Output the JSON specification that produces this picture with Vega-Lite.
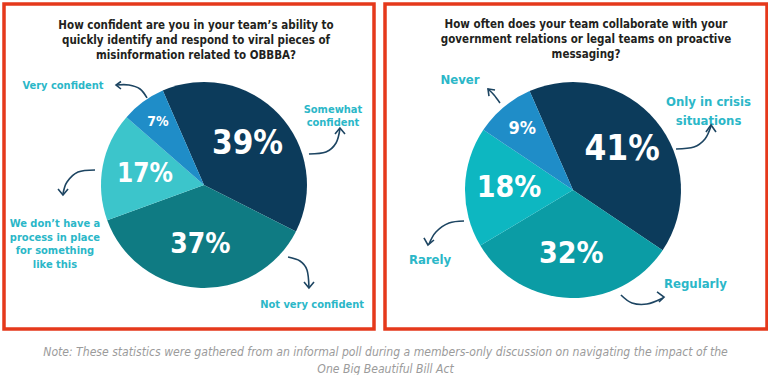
{
  "$schema": "https://vega.github.io/schema/vega-lite/v6.json",
  "background": "white",
  "padding": {"left": 2, "top": 2, "right": 0, "bottom": 0},
  "bounds": "flush",
  "spacing": 11,
  "resolve": {"scale": {"color": "independent", "size": "independent", "theta": "independent", "opacity": "independent", "x": "independent", "y": "independent"}},
  "title": {
    "text": ["Note: These statistics were gathered from an informal poll during a members-only discussion on navigating the impact of the", "One Big Beautiful Bill Act"],
    "orient": "bottom",
    "anchor": "middle",
    "offset": 15,
    "font": "'Liberation Sans Narrow', 'DejaVu Sans Condensed', sans-serif",
    "fontSize": 12.1,
    "fontStyle": "italic",
    "fontWeight": "normal",
    "color": "#9b9b9b",
    "lineHeight": 17
  },
  "config": {
    "view": {"stroke": "#e5391b", "strokeWidth": 3.5},
    "title": {"font": "'Liberation Sans Narrow', 'DejaVu Sans Condensed', sans-serif"}
  },
  "datasets": {
    "q1": [
      {"category": "Somewhat confident", "value": 0.39, "order": 1},
      {"category": "Not very confident", "value": 0.37, "order": 2},
      {"category": "We don’t have a process in place for something like this", "value": 0.17, "order": 3},
      {"category": "Very confident", "value": 0.07, "order": 4}
    ],
    "q2": [
      {"category": "Only in crisis situations", "value": 0.41, "order": 1},
      {"category": "Regularly", "value": 0.32, "order": 2},
      {"category": "Rarely", "value": 0.18, "order": 3},
      {"category": "Never", "value": 0.09, "order": 4}
    ],
    "l1": [
      {"text": ["Very confident"], "lx": -1.369, "ly": 0.961},
      {"text": ["Somewhat", "confident"], "lx": 1.252, "ly": 0.733},
      {"text": ["Not very confident"], "lx": 1.049, "ly": -1.165},
      {"text": ["We don’t have a", "process in place", "for something", "like this"], "lx": -1.447, "ly": -0.383}
    ],
    "l2": [
      {"text": ["Never"], "lx": -1.046, "ly": 1.019},
      {"text": ["Only in crisis", "situations"], "lx": 1.255, "ly": 0.819},
      {"text": ["Rarely"], "lx": -1.324, "ly": -0.648},
      {"text": ["Regularly"], "lx": 1.134, "ly": -0.87}
    ],
    "a1": [
      {"arrow": "A", "part": "curve", "i": 1, "ax": -0.553, "ay": 0.845},
      {"arrow": "A", "part": "curve", "i": 2, "ax": -0.621, "ay": 0.932},
      {"arrow": "A", "part": "curve", "i": 3, "ax": -0.728, "ay": 0.971},
      {"arrow": "A", "part": "curve", "i": 4, "ax": -0.854, "ay": 0.971},
      {"arrow": "A", "part": "head", "i": 1, "ax": -0.806, "ay": 1.005},
      {"arrow": "A", "part": "head", "i": 2, "ax": -0.854, "ay": 0.971},
      {"arrow": "A", "part": "head", "i": 3, "ax": -0.806, "ay": 0.932},
      {"arrow": "B", "part": "curve", "i": 1, "ax": 1.019, "ay": 0.301},
      {"arrow": "B", "part": "curve", "i": 2, "ax": 1.184, "ay": 0.32},
      {"arrow": "B", "part": "curve", "i": 3, "ax": 1.282, "ay": 0.408},
      {"arrow": "B", "part": "curve", "i": 4, "ax": 1.32, "ay": 0.544},
      {"arrow": "B", "part": "head", "i": 1, "ax": 1.272, "ay": 0.495},
      {"arrow": "B", "part": "head", "i": 2, "ax": 1.32, "ay": 0.553},
      {"arrow": "B", "part": "head", "i": 3, "ax": 1.369, "ay": 0.495},
      {"arrow": "C", "part": "curve", "i": 1, "ax": 0.816, "ay": -0.699},
      {"arrow": "C", "part": "curve", "i": 2, "ax": 0.932, "ay": -0.738},
      {"arrow": "C", "part": "curve", "i": 3, "ax": 1.0, "ay": -0.825},
      {"arrow": "C", "part": "curve", "i": 4, "ax": 1.019, "ay": -0.99},
      {"arrow": "C", "part": "head", "i": 1, "ax": 0.971, "ay": -0.942},
      {"arrow": "C", "part": "head", "i": 2, "ax": 1.019, "ay": -1.0},
      {"arrow": "C", "part": "head", "i": 3, "ax": 1.068, "ay": -0.942},
      {"arrow": "D", "part": "curve", "i": 1, "ax": -1.058, "ay": 0.146},
      {"arrow": "D", "part": "curve", "i": 2, "ax": -1.223, "ay": 0.126},
      {"arrow": "D", "part": "curve", "i": 3, "ax": -1.33, "ay": 0.029},
      {"arrow": "D", "part": "curve", "i": 4, "ax": -1.369, "ay": -0.087},
      {"arrow": "D", "part": "head", "i": 1, "ax": -1.417, "ay": -0.039},
      {"arrow": "D", "part": "head", "i": 2, "ax": -1.369, "ay": -0.097},
      {"arrow": "D", "part": "head", "i": 3, "ax": -1.32, "ay": -0.039}
    ],
    "a2": [
      {"arrow": "E", "part": "curve", "i": 1, "ax": -0.676, "ay": 0.806},
      {"arrow": "E", "part": "curve", "i": 2, "ax": -0.731, "ay": 0.88},
      {"arrow": "E", "part": "curve", "i": 3, "ax": -0.787, "ay": 0.935},
      {"arrow": "E", "part": "head", "i": 1, "ax": -0.722, "ay": 0.926},
      {"arrow": "E", "part": "head", "i": 2, "ax": -0.787, "ay": 0.935},
      {"arrow": "E", "part": "head", "i": 3, "ax": -0.778, "ay": 0.87},
      {"arrow": "F", "part": "curve", "i": 1, "ax": 0.954, "ay": 0.38},
      {"arrow": "F", "part": "curve", "i": 2, "ax": 1.12, "ay": 0.398},
      {"arrow": "F", "part": "curve", "i": 3, "ax": 1.222, "ay": 0.472},
      {"arrow": "F", "part": "curve", "i": 4, "ax": 1.278, "ay": 0.593},
      {"arrow": "F", "part": "head", "i": 1, "ax": 1.231, "ay": 0.537},
      {"arrow": "F", "part": "head", "i": 2, "ax": 1.278, "ay": 0.602},
      {"arrow": "F", "part": "head", "i": 3, "ax": 1.324, "ay": 0.537},
      {"arrow": "G", "part": "curve", "i": 1, "ax": 0.444, "ay": -0.972},
      {"arrow": "G", "part": "curve", "i": 2, "ax": 0.546, "ay": -1.046},
      {"arrow": "G", "part": "curve", "i": 3, "ax": 0.685, "ay": -1.056},
      {"arrow": "G", "part": "curve", "i": 4, "ax": 0.833, "ay": -1.0},
      {"arrow": "G", "part": "head", "i": 1, "ax": 0.778, "ay": -0.944},
      {"arrow": "G", "part": "head", "i": 2, "ax": 0.843, "ay": -0.991},
      {"arrow": "G", "part": "head", "i": 3, "ax": 0.796, "ay": -1.037},
      {"arrow": "H", "part": "curve", "i": 1, "ax": -1.009, "ay": -0.287},
      {"arrow": "H", "part": "curve", "i": 2, "ax": -1.148, "ay": -0.306},
      {"arrow": "H", "part": "curve", "i": 3, "ax": -1.269, "ay": -0.389},
      {"arrow": "H", "part": "curve", "i": 4, "ax": -1.333, "ay": -0.5},
      {"arrow": "H", "part": "head", "i": 1, "ax": -1.38, "ay": -0.444},
      {"arrow": "H", "part": "head", "i": 2, "ax": -1.343, "ay": -0.509},
      {"arrow": "H", "part": "head", "i": 3, "ax": -1.287, "ay": -0.463}
    ]
  },
  "hconcat": [
    {
      "width": 370,
      "height": 325,
      "title": {
        "text": ["How confident are you in your team’s ability to", "quickly identify and respond to viral pieces of", "misinformation related to OBBBA?"],
        "anchor": "middle",
        "offset": -57,
        "dx": 7,
        "fontSize": 11.5,
        "fontWeight": "bold",
        "color": "#231f20",
        "lineHeight": 15
      },
      "layer": [
        {
          "data": {"name": "q1"},
          "mark": {"type": "arc", "outerRadius": 103},
          "encoding": {
            "x": {"datum": 0, "type": "quantitative", "scale": {"domain": [-1.9417, 1.6505], "nice": false, "zero": false}, "axis": null},
            "y": {"datum": 0, "type": "quantitative", "scale": {"domain": [-1.3981, 1.7573], "nice": false, "zero": false}, "axis": null},
            "theta": {"field": "value", "type": "quantitative", "stack": true, "scale": {"range": [-0.4119, 5.8713]}},
            "order": {"field": "order"},
            "color": {"field": "category", "type": "nominal", "scale": {"domain": ["Somewhat confident", "Not very confident", "We don’t have a process in place for something like this", "Very confident"], "range": ["#0c3b5b", "#0f7b83", "#3cc5cb", "#1f8dc8"]}, "legend": null}
          }
        },
        {
          "data": {"name": "q1"},
          "mark": {"type": "text", "radius": 60, "font": "'DejaVu Sans Condensed', Roboto, sans-serif", "fontWeight": "bold", "fill": "white", "align": "center", "baseline": "middle"},
          "encoding": {
            "x": {"datum": 0, "type": "quantitative"},
            "y": {"datum": 0, "type": "quantitative"},
            "theta": {"field": "value", "type": "quantitative", "stack": true, "scale": {"range": [-0.4119, 5.8713]}},
            "order": {"field": "order"},
            "text": {"field": "value", "type": "quantitative", "format": ".0%"},
            "size": {"condition": [{"test": "datum.value > 0.38", "value": 33}, {"test": "datum.value > 0.3", "value": 28}], "value": 26},
            "opacity": {"condition": {"test": "datum.value < 0.15", "value": 0}, "value": 1}
          }
        },
        {
          "data": {"name": "q1"},
          "mark": {"type": "text", "radius": 78, "font": "'DejaVu Sans Condensed', Roboto, sans-serif", "fontWeight": "bold", "fill": "white", "align": "center", "baseline": "middle", "fontSize": 14},
          "encoding": {
            "x": {"datum": 0, "type": "quantitative"},
            "y": {"datum": 0, "type": "quantitative"},
            "theta": {"field": "value", "type": "quantitative", "stack": true, "scale": {"range": [-0.4119, 5.8713]}},
            "order": {"field": "order"},
            "text": {"field": "value", "type": "quantitative", "format": ".0%"},
            "opacity": {"condition": {"test": "datum.value < 0.15", "value": 1}, "value": 0}
          }
        },
        {
          "data": {"name": "l1"},
          "mark": {"type": "text", "font": "'Liberation Sans Narrow', 'DejaVu Sans Condensed', sans-serif", "fontWeight": "bold", "fontSize": 11, "lineHeight": 13.5, "fill": "#2bb7c8", "align": "center", "baseline": "middle"},
          "encoding": {
            "x": {"field": "lx", "type": "quantitative"},
            "y": {"field": "ly", "type": "quantitative"},
            "text": {"field": "text"}
          }
        },
        {
          "data": {"name": "a1"},
          "transform": [{"filter": "datum.part == 'curve'"}],
          "mark": {"type": "line", "interpolate": "cardinal", "stroke": "#1d4562", "strokeWidth": 1.6},
          "encoding": {
            "x": {"field": "ax", "type": "quantitative"},
            "y": {"field": "ay", "type": "quantitative"},
            "detail": {"field": "arrow"},
            "order": {"field": "i"}
          }
        },
        {
          "data": {"name": "a1"},
          "transform": [{"filter": "datum.part == 'head'"}],
          "mark": {"type": "line", "stroke": "#1d4562", "strokeWidth": 1.6},
          "encoding": {
            "x": {"field": "ax", "type": "quantitative"},
            "y": {"field": "ay", "type": "quantitative"},
            "detail": {"field": "arrow"},
            "order": {"field": "i"}
          }
        }
      ]
    },
    {
      "width": 382,
      "height": 325,
      "title": {
        "text": ["How often does your team collaborate with your", "government relations or legal teams on proactive", "messaging?"],
        "anchor": "middle",
        "offset": -56,
        "dx": 10,
        "fontSize": 11.5,
        "fontWeight": "bold",
        "color": "#231f20",
        "lineHeight": 15
      },
      "layer": [
        {
          "data": {"name": "q2"},
          "mark": {"type": "arc", "outerRadius": 108},
          "encoding": {
            "x": {"datum": 0, "type": "quantitative", "scale": {"domain": [-1.7407, 1.7963], "nice": false, "zero": false}, "axis": null},
            "y": {"datum": 0, "type": "quantitative", "scale": {"domain": [-1.287, 1.7222], "nice": false, "zero": false}, "axis": null},
            "theta": {"field": "value", "type": "quantitative", "stack": true, "scale": {"range": [-0.4136, 5.8696]}},
            "order": {"field": "order"},
            "color": {"field": "category", "type": "nominal", "scale": {"domain": ["Only in crisis situations", "Regularly", "Rarely", "Never"], "range": ["#0c3b5b", "#0b9ca5", "#0db7c1", "#1f8dc8"]}, "legend": null}
          }
        },
        {
          "data": {"name": "q2"},
          "mark": {"type": "text", "radius": 64, "font": "'DejaVu Sans Condensed', Roboto, sans-serif", "fontWeight": "bold", "fill": "white", "align": "center", "baseline": "middle"},
          "encoding": {
            "x": {"datum": 0, "type": "quantitative"},
            "y": {"datum": 0, "type": "quantitative"},
            "theta": {"field": "value", "type": "quantitative", "stack": true, "scale": {"range": [-0.4136, 5.8696]}},
            "order": {"field": "order"},
            "text": {"field": "value", "type": "quantitative", "format": ".0%"},
            "size": {"condition": [{"test": "datum.value > 0.38", "value": 35}], "value": 30},
            "opacity": {"condition": {"test": "datum.value < 0.15", "value": 0}, "value": 1}
          }
        },
        {
          "data": {"name": "q2"},
          "mark": {"type": "text", "radius": 79, "font": "'DejaVu Sans Condensed', Roboto, sans-serif", "fontWeight": "bold", "fill": "white", "align": "center", "baseline": "middle", "fontSize": 18},
          "encoding": {
            "x": {"datum": 0, "type": "quantitative"},
            "y": {"datum": 0, "type": "quantitative"},
            "theta": {"field": "value", "type": "quantitative", "stack": true, "scale": {"range": [-0.4136, 5.8696]}},
            "order": {"field": "order"},
            "text": {"field": "value", "type": "quantitative", "format": ".0%"},
            "opacity": {"condition": {"test": "datum.value < 0.15", "value": 1}, "value": 0}
          }
        },
        {
          "data": {"name": "l2"},
          "mark": {"type": "text", "font": "'Liberation Sans Narrow', 'DejaVu Sans Condensed', sans-serif", "fontWeight": "bold", "fontSize": 13, "lineHeight": 19, "fill": "#2bb7c8", "align": "center", "baseline": "middle"},
          "encoding": {
            "x": {"field": "lx", "type": "quantitative"},
            "y": {"field": "ly", "type": "quantitative"},
            "text": {"field": "text"}
          }
        },
        {
          "data": {"name": "a2"},
          "transform": [{"filter": "datum.part == 'curve'"}],
          "mark": {"type": "line", "interpolate": "cardinal", "stroke": "#1d4562", "strokeWidth": 1.6},
          "encoding": {
            "x": {"field": "ax", "type": "quantitative"},
            "y": {"field": "ay", "type": "quantitative"},
            "detail": {"field": "arrow"},
            "order": {"field": "i"}
          }
        },
        {
          "data": {"name": "a2"},
          "transform": [{"filter": "datum.part == 'head'"}],
          "mark": {"type": "line", "stroke": "#1d4562", "strokeWidth": 1.6},
          "encoding": {
            "x": {"field": "ax", "type": "quantitative"},
            "y": {"field": "ay", "type": "quantitative"},
            "detail": {"field": "arrow"},
            "order": {"field": "i"}
          }
        }
      ]
    }
  ]
}
